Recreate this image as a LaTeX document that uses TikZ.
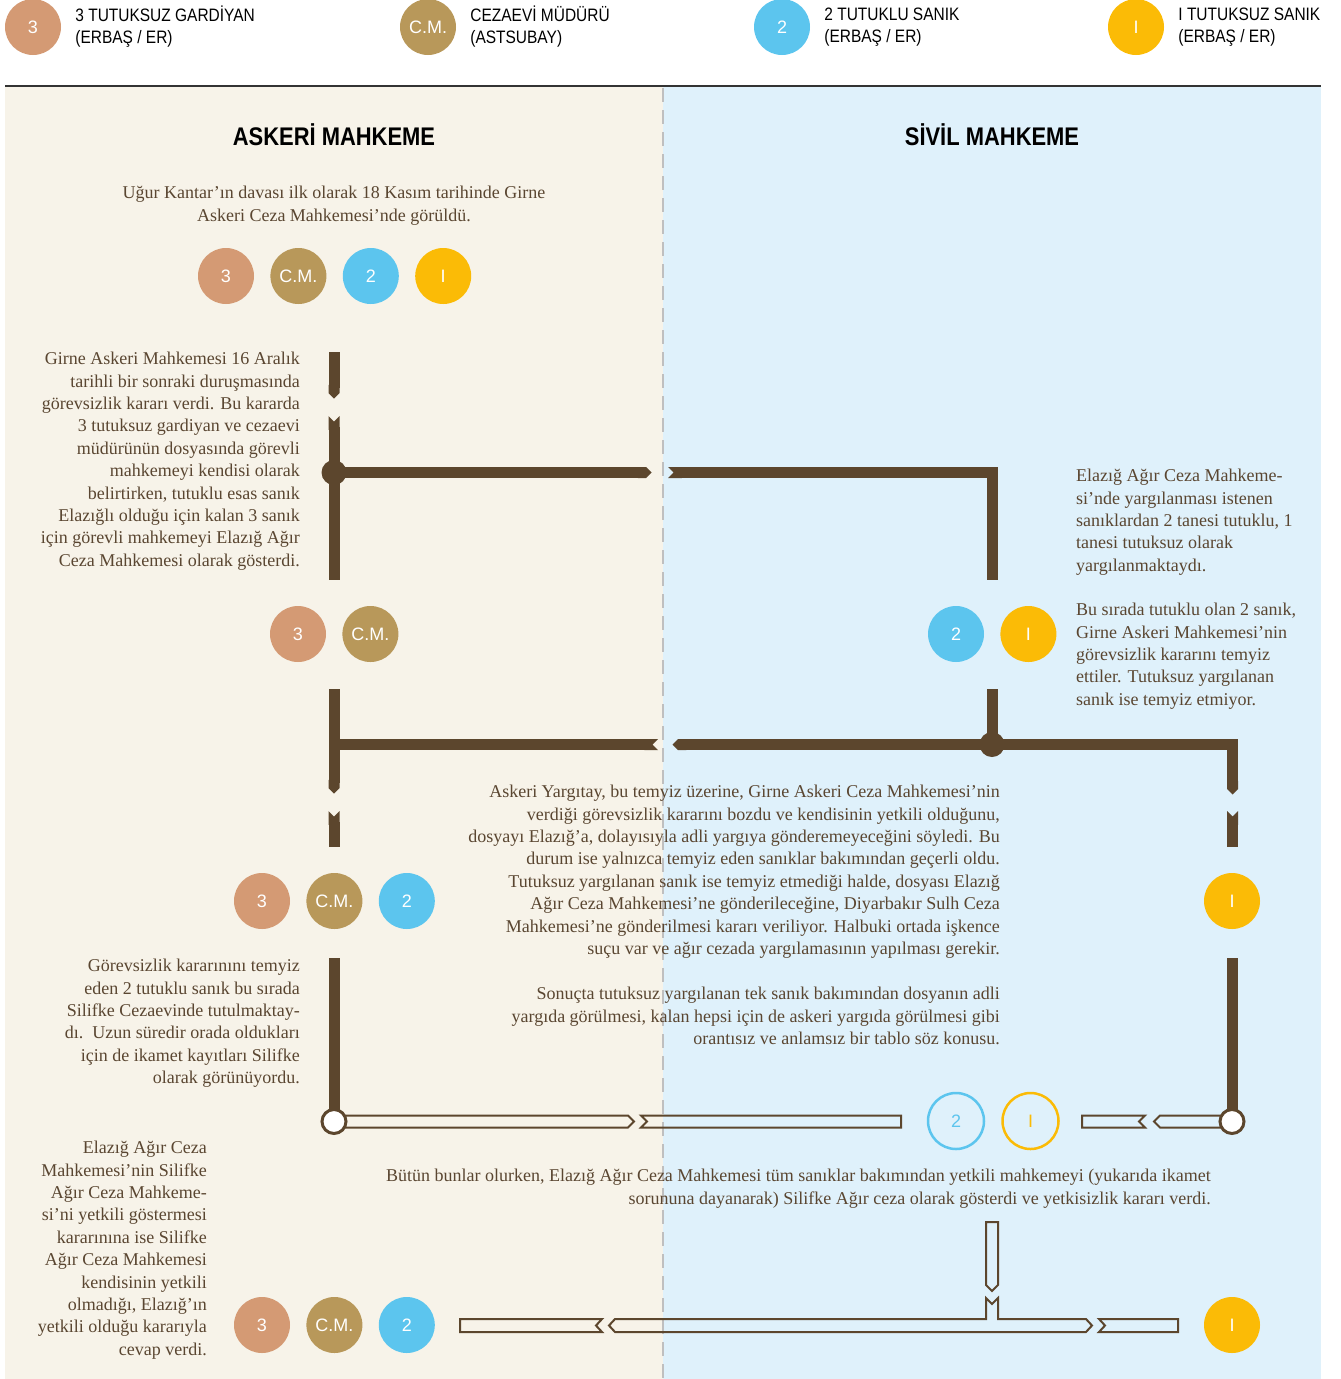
\documentclass[tikz,border=0pt]{standalone}
\usepackage{fontspec}
\setmainfont{Liberation Serif}
\newfontfamily\legendfont[FakeStretch=0.86]{Liberation Sans}
\newfontfamily\circfont{Liberation Sans}
\usepackage{tikz}
\usetikzlibrary{positioning}
\usetikzlibrary{arrows.meta}
\definecolor{flowbrown}{HTML}{5C462D}
\definecolor{textbrown}{HTML}{5A4631}
\definecolor{askeribg}{HTML}{F7F3E9}
\definecolor{sivilbg}{HTML}{DFF1FB}
\definecolor{gardcol}{HTML}{D49A74}
\definecolor{mudcol}{HTML}{B8985A}
\definecolor{tutcol}{HTML}{5CC5EE}
\definecolor{serbcol}{HTML}{FBBB06}
\tikzset{
  person/.style={circle, minimum size=56pt, inner sep=0pt, text=white,
    font=\circfont\fontsize{18}{18}\selectfont},
  gard/.style={person, fill=gardcol},
  mud/.style={person, fill=mudcol},
  tut/.style={person, fill=tutcol},
  serb/.style={person, fill=serbcol},
  ghost/.style={person, draw=#1, text=#1, line width=2.5pt},
  legendtext/.style={right=14pt of #1, align=left, inner sep=0pt,
    font=\legendfont\fontsize{18}{22}\selectfont},
  heading/.style={font=\legendfont\bfseries\fontsize{25.5}{25.5}\selectfont},
  story/.style={text=textbrown, inner sep=0pt, font=\fontsize{18}{22.4}\selectfont},
  flow/.style={line width=11pt, draw=flowbrown},
  hollow/.style={draw=flowbrown, line width=2pt, line join=miter},
}

\begin{document}
\begin{tikzpicture}[x=1pt, y=-1pt]
\useasboundingbox (0,0) rectangle (1341,1379);

% Panels
\fill[askeribg] (5,87) rectangle (663,1379);
\fill[sivilbg] (663,87) rectangle (1321,1379);
\draw[black!80, line width=1.5pt] (5,86) -- (1321,86);
\draw[black!25, line width=2pt, dash pattern=on 14pt off 8pt] (663,88) -- (663,1379);

% Legend
\node[gard] (lg3) at (33,27) {3};
\node[legendtext=lg3] {3 TUTUKSUZ GARDİYAN\\(ERBAŞ / ER)};
\node[mud] (lgcm) at (428,27) {C.M.};
\node[legendtext=lgcm] {CEZAEVİ MÜDÜRÜ\\(ASTSUBAY)};
\node[tut] (lg2) at (782,27) {2};
\node[legendtext=lg2] {2 TUTUKLU SANIK\\(ERBAŞ / ER)};
\node[serb] (lg1) at (1136,27) {I};
\node[legendtext=lg1] {I TUTUKSUZ SANIK\\(ERBAŞ / ER)};

% Headings
\node[heading] (askeri) at (334,135) {ASKERİ MAHKEME};
\node[heading] (sivil) at (992,135) {SİVİL MAHKEME};

% Texts
\node[story, anchor=north, align=center] (t1) at (334,186)
  {Uğur Kantar’ın davası ilk olarak 18 Kasım tarihinde Girne\\
   Askeri Ceza Mahkemesi’nde görüldü.};
\node[story, anchor=north east, align=right] (t2) at (300,352)
  {Girne Askeri Mahkemesi 16 Aralık\\tarihli bir sonraki duruşmasında\\
   görevsizlik kararı verdi. Bu kararda\\3 tutuksuz gardiyan ve cezaevi\\
   müdürünün dosyasında görevli\\mahkemeyi kendisi olarak\\
   belirtirken, tutuklu esas sanık\\Elazığlı olduğu için kalan 3 sanık\\
   için görevli mahkemeyi Elazığ Ağır\\Ceza Mahkemesi olarak gösterdi.};
\node[story, anchor=north west, align=left] (t3) at (1076,469)
  {Elazığ Ağır Ceza Mahkeme-\\si’nde yargılanması istenen\\
   sanıklardan 2 tanesi tutuklu, 1\\tanesi tutuksuz olarak\\yargılanmaktaydı.};
\node[story, anchor=north west, align=left] (t4) at (1076,603)
  {Bu sırada tutuklu olan 2 sanık,\\Girne Askeri Mahkemesi’nin\\
   görevsizlik kararını temyiz\\ettiler. Tutuksuz yargılanan\\sanık ise temyiz etmiyor.};
\node[story, anchor=north east, align=right] (t5) at (1000,785)
  {Askeri Yargıtay, bu temyiz üzerine, Girne Askeri Ceza Mahkemesi’nin\\
   verdiği görevsizlik kararını bozdu ve kendisinin yetkili olduğunu,\\
   dosyayı Elazığ’a, dolayısıyla adli yargıya gönderemeyeceğini söyledi. Bu\\
   durum ise yalnızca temyiz eden sanıklar bakımından geçerli oldu.\\
   Tutuksuz yargılanan sanık ise temyiz etmediği halde, dosyası Elazığ\\
   Ağır Ceza Mahkemesi’ne gönderileceğine, Diyarbakır Sulh Ceza\\
   Mahkemesi’ne gönderilmesi kararı veriliyor. Halbuki ortada işkence\\
   suçu var ve ağır cezada yargılamasının yapılması gerekir.};
\node[story, anchor=north east, align=right] (t6) at (1000,987)
  {Sonuçta tutuksuz yargılanan tek sanık bakımından dosyanın adli\\
   yargıda görülmesi, kalan hepsi için de askeri yargıda görülmesi gibi\\
   orantısız ve anlamsız bir tablo söz konusu.};
\node[story, anchor=north east, align=right] (t7) at (300,959)
  {Görevsizlik kararınını temyiz\\eden 2 tutuklu sanık bu sırada\\
   Silifke Cezaevinde tutulmaktay-\\dı.\ \ Uzun süredir orada oldukları\\
   için de ikamet kayıtları Silifke\\olarak görünüyordu.};
\node[story, anchor=north east, align=right] (t8) at (1211,1169)
  {Bütün bunlar olurken, Elazığ Ağır Ceza Mahkemesi tüm sanıklar bakımından yetkili mahkemeyi (yukarıda ikamet\\
   sorununa dayanarak) Silifke Ağır ceza olarak gösterdi ve yetkisizlik kararı verdi.};
\node[story, anchor=north east, align=right] (t9) at (207,1141)
  {Elazığ Ağır Ceza\\Mahkemesi’nin Silifke\\Ağır Ceza Mahkeme-\\
   si’ni yetkili göstermesi\\kararınına ise Silifke\\Ağır Ceza Mahkemesi\\
   kendisinin yetkili\\olmadığı, Elazığ’ın\\yetkili olduğu kararıyla\\cevap verdi.};

% Row 1 people
\node[gard] (g1) at (226,276) {3};
\node[mud, right=16pt of g1] (m1) {C.M.};
\node[tut, right=16pt of m1] (s1) {2};
\node[serb, right=16pt of s1] (u1) {I};

% Row 1 flow
\coordinate (L1top) at (334,352);
\coordinate (L1tip) at (334,398.5);
\coordinate (L1mid) at (334,416);
\coordinate (L1end) at (334,580);
\coordinate (J1) at (334,472.5);
\coordinate (H1tip) at (651.5,472.5);
\coordinate (H1tail) at (668,472.5);
\coordinate (C1) at (992,472.5);
\coordinate (R1end) at (992,580);
\draw[flow, -{Triangle Cap}] (L1top) -- (L1tip);
\draw[flow, {Triangle Cap[reversed]}-] (L1mid) -- (L1end);
\draw[flow, -{Triangle Cap}] (J1) -- (H1tip);
\draw[flow, {Triangle Cap[reversed]}-] (H1tail) -- (C1) -- (R1end);
\fill[flowbrown] (J1) circle (12.5pt);

% Row 2 people
\node[gard] (g2) at (298,634) {3};
\node[mud, right=16pt of g2] (m2) {C.M.};
\node[tut] (s2) at (956,634) {2};
\node[serb, right=16pt of s2] (u2) {I};

% Row 2 flow
\coordinate (L2top) at (334,689);
\coordinate (L2tip) at (334,793.5);
\coordinate (L2mid) at (334,811);
\coordinate (L2end) at (334,847);
\coordinate (J2) at (334,744.5);
\coordinate (H2tail) at (658,744.5);
\coordinate (H2tip) at (672.5,744.5);
\coordinate (C2) at (1232.5,744.5);
\coordinate (R2tip) at (1232.5,794.5);
\coordinate (R2mid) at (1232.5,811);
\coordinate (R2end) at (1232.5,847);
\coordinate (M2top) at (992,689);
\coordinate (D2) at (992,744.5);
\draw[flow, -{Triangle Cap}] (L2top) -- (L2tip);
\draw[flow, {Triangle Cap[reversed]}-] (L2mid) -- (L2end);
\draw[flow, -{Triangle Cap[reversed]}] (J2) -- (H2tail);
\draw[flow, {Triangle Cap}-{Triangle Cap}] (H2tip) -- (C2) -- (R2tip);
\draw[flow, {Triangle Cap[reversed]}-] (R2mid) -- (R2end);
\draw[flow] (M2top) -- (D2);
\fill[flowbrown] (D2) circle (12.5pt);

% Row 3 people
\node[gard] (g3) at (262,901) {3};
\node[mud, right=16pt of g3] (m3) {C.M.};
\node[tut, right=16pt of m3] (s3) {2};
\node[serb] (u3) at (1232,901) {I};

% Row 3 flow
\coordinate (L3top) at (334,958);
\coordinate (O3l) at (334,1121.5);
\coordinate (R3top) at (1232,958);
\coordinate (O3r) at (1232,1121.5);
\draw[flow] (L3top) -- (O3l);
\draw[flow] (R3top) -- (O3r);
\draw[hollow] (334,1115.5) -- (628,1115.5) -- (634,1121.5) -- (628,1127.5) -- (334,1127.5) -- cycle;
\draw[hollow] (641,1115.5) -- (901,1115.5) -- (901,1127.5) -- (641,1127.5) -- (647,1121.5) -- cycle;
\draw[hollow] (1082,1115.5) -- (1145,1115.5) -- (1139,1121.5) -- (1145,1127.5) -- (1082,1127.5) -- cycle;
\draw[hollow] (1154,1121.5) -- (1160,1115.5) -- (1232,1115.5) -- (1232,1127.5) -- (1160,1127.5) -- cycle;
\filldraw[fill=white, draw=flowbrown, line width=3pt] (O3l) circle (12pt);
\filldraw[fill=white, draw=flowbrown, line width=3pt] (O3r) circle (12pt);
\node[ghost=tutcol] (s3b) at (956,1121) {2};
\node[ghost=serbcol, right=16pt of s3b] (u3b) {I};

% Row 4 people
\node[gard] (g4) at (262,1325) {3};
\node[mud, right=16pt of g4] (m4) {C.M.};
\node[tut, right=16pt of m4] (s4) {2};
\node[serb] (u4) at (1232,1325) {I};

% Row 4 flow
\draw[hollow] (986,1222) -- (998,1222) -- (998,1285) -- (992,1291) -- (986,1285) -- cycle;
\draw[hollow] (460,1319) -- (602,1319) -- (596,1325.5) -- (602,1332) -- (460,1332) -- cycle;
\draw[hollow] (609,1325.5) -- (615,1319) -- (986,1319) -- (986,1298) -- (992,1304)
  -- (998,1298) -- (998,1319) -- (1086,1319) -- (1092,1325.5) -- (1086,1332) -- (615,1332) -- cycle;
\draw[hollow] (1099,1319) -- (1178,1319) -- (1178,1332) -- (1099,1332) -- (1105,1325.5) -- cycle;
\end{tikzpicture}
\end{document}
